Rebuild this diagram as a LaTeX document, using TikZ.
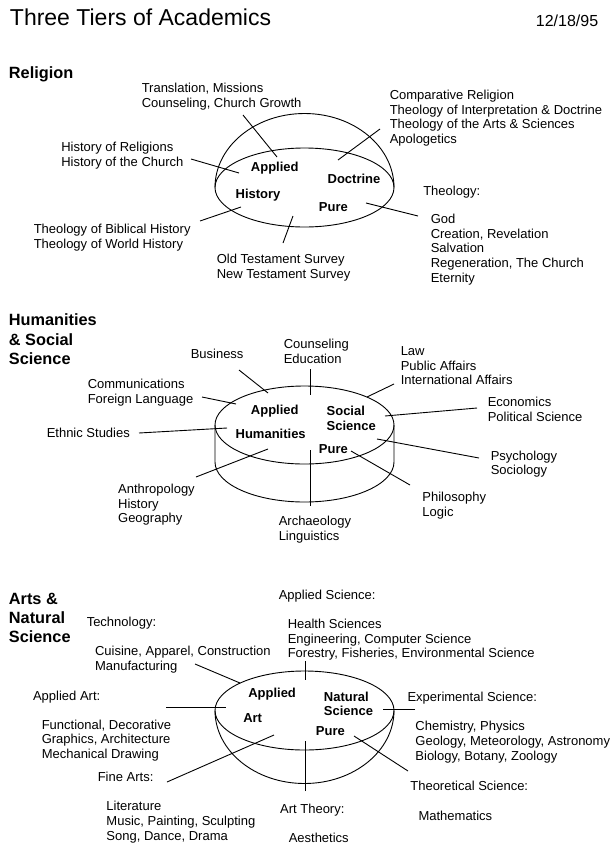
\documentclass[tikz,border=0pt]{standalone}
\usepackage{fontspec}
\setmainfont{Liberation Sans}

\tikzset{
  lbl/.style={anchor=north west, inner sep=0pt, align=left,
    font=\fontsize{13}{14.75}\selectfont},
  zone/.style={anchor=base west, inner sep=0pt,
    font=\bfseries\fontsize{13}{14.5}\selectfont},
  zonetwo/.style={anchor=north west, inner sep=0pt, align=left,
    font=\bfseries\fontsize{13}{14.5}\selectfont},
  tier/.style={anchor=north west, inner sep=0pt, align=left,
    font=\bfseries\fontsize{16.3}{19.3}\selectfont},
}

\begin{document}
\begin{tikzpicture}[x=1pt,y=-1pt,line width=0.9pt]
   \fill[white] (0,0) rectangle (610,849);
   \useasboundingbox (0,0) rectangle (610,849);
   \node[anchor=base west,inner sep=0pt,font=\fontsize{23}{27}\selectfont] (title) at (9.5,25.7) {Three Tiers of Academics};
   \node[anchor=base west,inner sep=0pt,font=\fontsize{16}{19}\selectfont] (date) at (535.5,26.7) {12/18/95};

   % religion
   \node[tier] (religion) at (8.5,66.2) {Religion};
   \draw (304.5,187.5) ellipse [x radius=89.5, y radius=39.5];
   \draw (215,187.5) arc [start angle=180, end angle=360, x radius=89.5, y radius=74];
   \node[zone] (rapplied)  at (250.5,171.4) {Applied};
   \node[zone] (rdoctrine) at (327.2,183.7) {Doctrine};
   \node[zone] (rhistory)  at (235.2,198.0) {History};
   \node[zone] (rpure)     at (318.5,211.4) {Pure};
   \node[lbl] (missions) at (141.3,82.6) {Translation, Missions\\Counseling, Church Growth};
   \node[lbl] (comparative) at (389.3,89.6) {Comparative Religion\\Theology of Interpretation \& Doctrine\\Theology of the Arts \& Sciences\\Apologetics};
   \node[lbl] (histrel) at (60.9,142.0) {History of Religions\\History of the Church};
   \node[lbl] (theology) at (422.8,185.3) {Theology:};
   \node[lbl] (god) at (430.3,213.6) {God\\Creation, Revelation\\Salvation\\Regeneration, The Church\\Eternity};
   \node[lbl] (biblical) at (33.3,224.0) {Theology of Biblical History\\Theology of World History};
   \node[lbl] (survey) at (216.3,253.6) {Old Testament Survey\\New Testament Survey};
   \coordinate (missionsA) at (243,115);    \coordinate (missionsB) at (277,157);
   \coordinate (comparativeA) at (380,129); \coordinate (comparativeB) at (338,160);
   \coordinate (histrelA) at (191,159);     \coordinate (histrelB) at (239,173);
   \coordinate (biblicalA) at (200,221);    \coordinate (biblicalB) at (241,207);
   \coordinate (surveyA) at (283,243);      \coordinate (surveyB) at (293,216);
   \coordinate (godA) at (418,216);         \coordinate (godB) at (366,203);
   \draw (missionsA) -- (missionsB);
   \draw (comparativeA) -- (comparativeB);
   \draw (histrelA) -- (histrelB);
   \draw (biblicalA) -- (biblicalB);
   \draw (surveyA) -- (surveyB);
   \draw (godA) -- (godB);

   % humanities and social science
   \node[tier] (humanities) at (8.5,313.7) {Humanities\\\& Social\\Science};
   \draw (304.5,425) ellipse [x radius=89.5, y radius=39];
   \draw (215,425) -- (215,462) arc [start angle=180, end angle=0, x radius=89.5, y radius=40] -- (394,425);
   \node[zone]    (happlied) at (250.5,414.7) {Applied};
   \node[zonetwo] (hsocial)  at (326.2,406.0) {Social\\Science};
   \node[zone]    (hhuman)   at (235.2,438.0) {Humanities};
   \node[zone]    (hpure)    at (318.5,453.0) {Pure};
   \node[lbl] (counseling) at (283.3,338.6) {Counseling\\Education};
   \node[lbl] (business) at (190.3,348.6) {Business};
   \node[lbl] (law) at (400.3,346.0) {Law\\Public Affairs\\International Affairs};
   \node[lbl] (communic) at (87.3,378.6) {Communications\\Foreign Language};
   \node[lbl] (economics) at (487.3,397.0) {Economics\\Political Science};
   \node[lbl] (ethnic) at (46.3,428.0) {Ethnic Studies};
   \node[lbl] (psychology) at (490.3,450.3) {Psychology\\Sociology};
   \node[lbl] (anthro) at (117.7,483.6) {Anthropology\\History\\Geography};
   \node[lbl] (philosophy) at (422.0,492.0) {Philosophy\\Logic};
   \node[lbl] (archaeology) at (278.3,516.0) {Archaeology\\Linguistics};
   \coordinate (counselingA) at (310,369);  \coordinate (counselingB) at (310,395);
   \coordinate (businessA) at (239,370);    \coordinate (businessB) at (268,393);
   \coordinate (lawA) at (394,384);         \coordinate (lawB) at (367,397);
   \coordinate (communicA) at (202,397);    \coordinate (communicB) at (236,404);
   \coordinate (economicsA) at (477,408);   \coordinate (economicsB) at (385,416);
   \coordinate (ethnicA) at (139,433);      \coordinate (ethnicB) at (227,428);
   \coordinate (psychologyA) at (479,458);  \coordinate (psychologyB) at (377,439);
   \coordinate (anthroA) at (196,477);      \coordinate (anthroB) at (268,449);
   \coordinate (philosophyA) at (410,485);  \coordinate (philosophyB) at (351,451);
   \coordinate (archaeologyA) at (310,506); \coordinate (archaeologyB) at (310,450);
   \draw (counselingA) -- (counselingB);
   \draw (businessA) -- (businessB);
   \draw (lawA) -- (lawB);
   \draw (communicA) -- (communicB);
   \draw (economicsA) -- (economicsB);
   \draw (ethnicA) -- (ethnicB);
   \draw (psychologyA) -- (psychologyB);
   \draw (anthroA) -- (anthroB);
   \draw (philosophyA) -- (philosophyB);
   \draw (archaeologyA) -- (archaeologyB);

   % arts and natural science
   \node[tier] (arts) at (8.5,592.5) {Arts \&\\Natural\\Science};
   \draw (304.5,710.5) ellipse [x radius=89.5, y radius=39.5];
   \draw (215,710.5) arc [start angle=180, end angle=0, x radius=89.5, y radius=73];
   \node[zone]    (aapplied) at (247.8,697.4) {Applied};
   \node[zonetwo] (anatural) at (323.5,691.3) {Natural\\Science};
   \node[zone]    (aart)     at (242.8,722.0) {Art};
   \node[zone]    (apure)    at (315.5,735.4) {Pure};
   \node[lbl] (technology) at (86.3,617.0) {Technology:};
   \node[lbl] (appsci) at (278.3,589.3) {Applied Science:};
   \node[lbl] (health) at (287.3,618.6) {Health Sciences\\Engineering, Computer Science\\Forestry, Fisheries, Environmental Science};
   \node[lbl] (cuisine) at (94.6,646.0) {Cuisine, Apparel, Construction\\Manufacturing};
   \node[lbl] (appart) at (32.6,691.0) {Applied Art:};
   \node[lbl] (expsci) at (407.1,691.3) {Experimental Science:};
   \node[lbl] (functional) at (41.3,719.3) {Functional, Decorative\\Graphics, Architecture\\Mechanical Drawing};
   \node[lbl] (chemistry) at (415.0,721.0) {Chemistry, Physics\\Geology, Meteorology, Astronomy\\Biology, Botany, Zoology};
   \node[lbl] (finearts) at (97.3,771.3) {Fine Arts:};
   \node[lbl] (theosci) at (409.9,781.0) {Theoretical Science:};
   \node[lbl] (literature) at (106.0,801.0) {Literature\\Music, Painting, Sculpting\\Song, Dance, Drama};
   \node[lbl] (arttheory) at (279.7,803.6) {Art Theory:};
   \node[lbl] (mathematics) at (418.1,810.3) {Mathematics};
   \node[lbl] (aesthetics) at (288.3,832.6) {Aesthetics};
   \coordinate (healthA) at (305,661);      \coordinate (healthB) at (305,680);
   \coordinate (cuisineA) at (195,664);     \coordinate (cuisineB) at (240,683);
   \coordinate (functionalA) at (166,707);  \coordinate (functionalB) at (226,707);
   \coordinate (chemistryA) at (415,709);   \coordinate (chemistryB) at (383,709);
   \coordinate (literatureA) at (167,782);  \coordinate (literatureB) at (274,735);
   \coordinate (mathematicsA) at (408,771); \coordinate (mathematicsB) at (354,736);
   \coordinate (aestheticsA) at (305,791);  \coordinate (aestheticsB) at (305,741);
   \draw (healthA) -- (healthB);
   \draw (cuisineA) -- (cuisineB);
   \draw (functionalA) -- (functionalB);
   \draw (chemistryA) -- (chemistryB);
   \draw (literatureA) -- (literatureB);
   \draw (mathematicsA) -- (mathematicsB);
   \draw (aestheticsA) -- (aestheticsB);
\end{tikzpicture}
\end{document}
